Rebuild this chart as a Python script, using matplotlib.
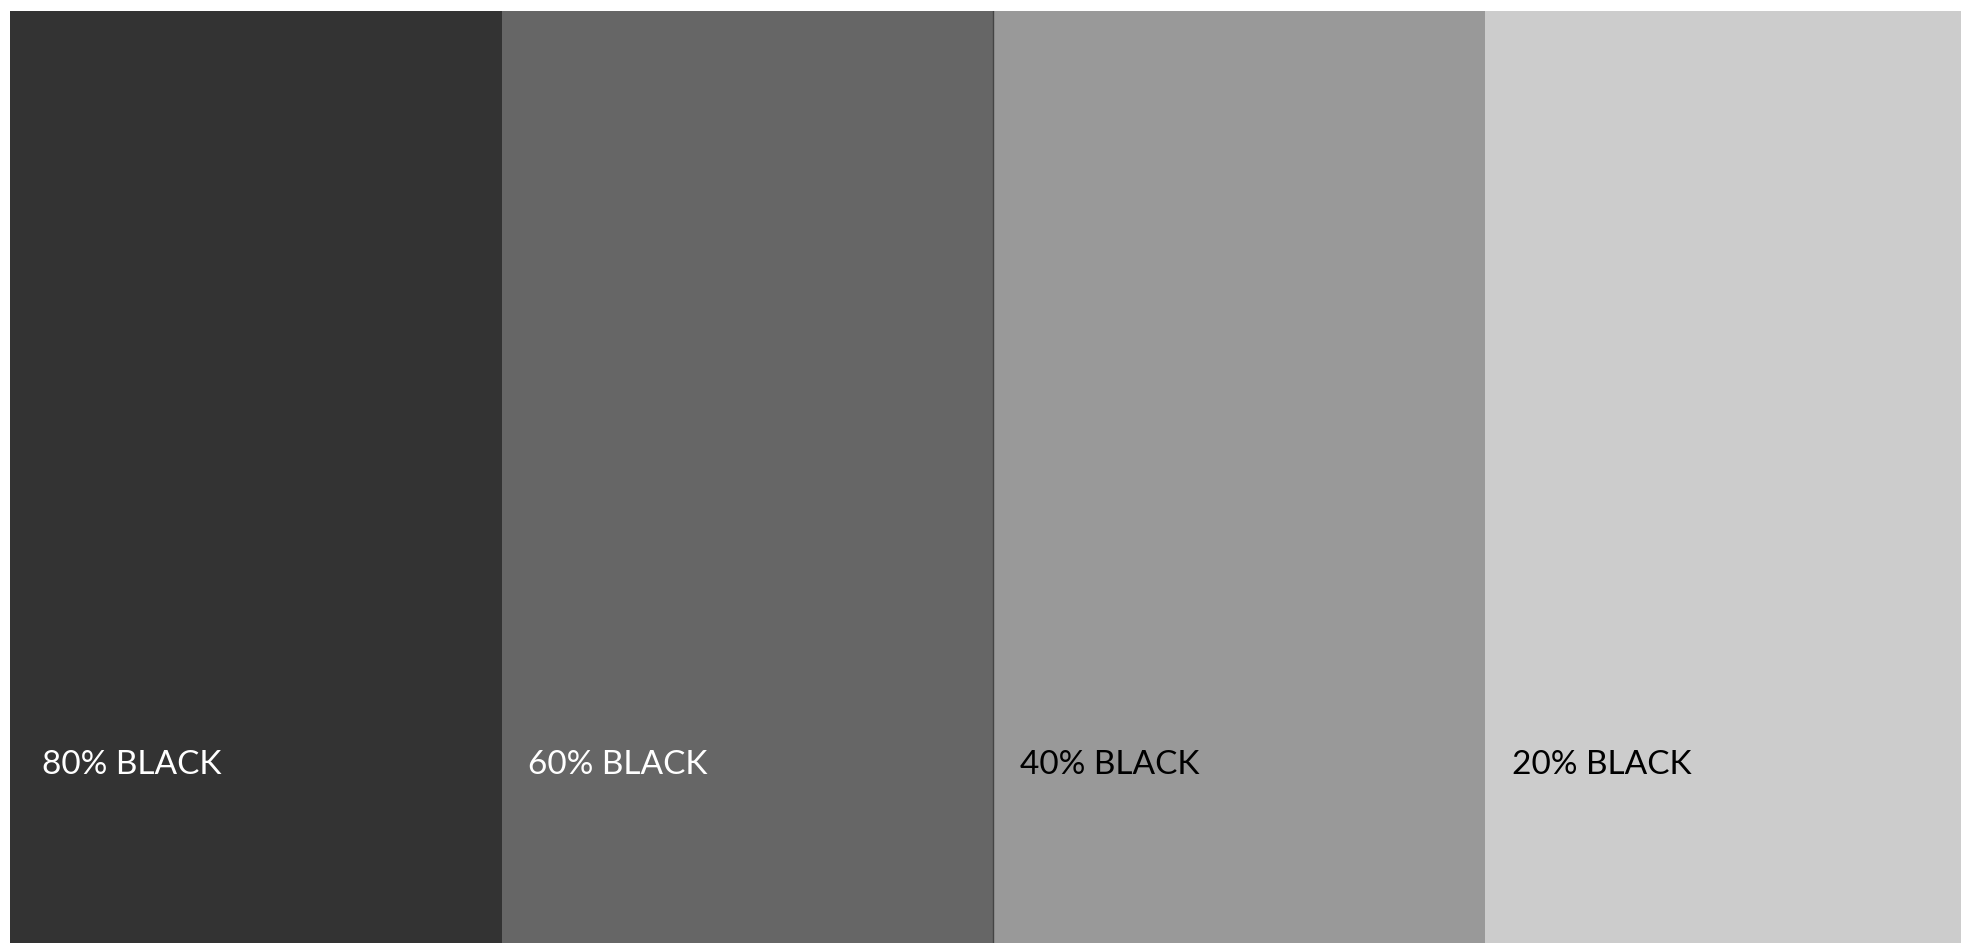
import matplotlib
matplotlib.use("Agg")
import matplotlib.pyplot as plt

labels = ["80% BLACK", "60% BLACK", "40% BLACK", "20% BLACK"]
colors = ["#333333", "#666666", "#999999", "#cccccc"]
text_colors = ["white", "white", "black", "black"]

W, H = 1961, 943
fig = plt.figure(figsize=(W / 100, H / 100), dpi=100)
fig.patch.set_facecolor("white")

left_px, top_px = 10, 11
panel_px = 491.7
total_w = panel_px * len(labels)
ax = fig.add_axes([left_px / W, 0, total_w / W, (H - top_px) / H])
ax.set_xlim(0, len(labels))
ax.set_ylim(0, 1)
ax.axis("off")

ax.bar(range(len(labels)), [1] * len(labels), width=1.0, align="edge",
       color=colors, linewidth=0)
ax.axvline(2, color="#444444", linewidth=1.0)

ytext = 1 - (765 - top_px) / (H - top_px)
for i, (lab, tc) in enumerate(zip(labels, text_colors)):
    off = 0.066 if i == 0 else 0.054
    ax.text(i + off, ytext, lab, color=tc, fontsize=24, family="Lato",
            fontweight="normal", va="center", ha="left")

fig.savefig("out.png", dpi=100, facecolor="white")
